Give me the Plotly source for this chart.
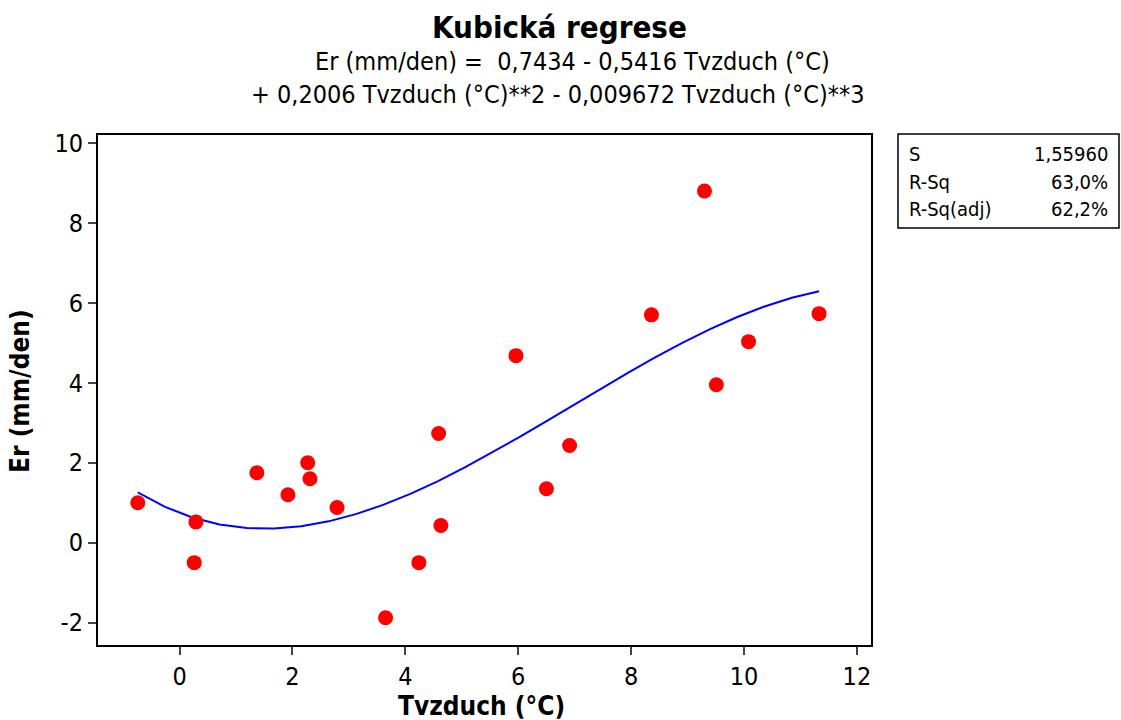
import numpy as np
import plotly.graph_objects as go

# Data
tvzduch = [-0.74, 0.29, 0.26, 1.37, 1.92, 2.27, 2.31, 2.79, 3.65, 4.24,
           4.59, 4.63, 5.96, 6.50, 6.91, 8.36, 9.30, 9.51, 10.08, 11.33]
er = [1.00, 0.52, -0.50, 1.75, 1.20, 2.00, 1.60, 0.88, -1.88, -0.50,
      2.73, 0.43, 4.68, 1.35, 2.43, 5.70, 8.80, 3.95, 5.03, 5.73]

# Cubic fit coefficients shown in the title (constant, x, x^2, x^3)
coefs = [0.7434, -0.5416, 0.2006, -0.009672]

stat_labels = ["S", "R-Sq", "R-Sq(adj)"]
stat_values = ["1,55960", "63,0%", "62,2%"]

x_ticks = [0, 2, 4, 6, 8, 10, 12]
y_ticks = [-2, 0, 2, 4, 6, 8, 10]
y_ticktext = ["-2", "0", "2", "4", "6", "8", "10"]

FONT = "DejaVu Sans Condensed, Tahoma, DejaVu Sans, sans-serif"

xf = np.linspace(min(tvzduch), max(tvzduch), 26)
yf = np.polyval(coefs[::-1], xf)

fig = go.Figure()
fig.add_trace(go.Scatter(x=xf, y=yf, mode="lines",
                         line=dict(color="#0000ff", width=2), showlegend=False))
fig.add_trace(go.Scatter(x=tvzduch, y=er, mode="markers",
                         marker=dict(color="#ff0000", size=15, line=dict(width=0)),
                         showlegend=False))

L, R, T, B = 98, 250, 135, 75
fig.update_layout(
    width=1121, height=720,
    margin=dict(l=L, r=R, t=T, b=B),
    paper_bgcolor="white", plot_bgcolor="white",
    font=dict(family=FONT, color="black", size=25),
    showlegend=False,
)
fig.update_xaxes(
    range=[-1.445, 12.25], tickvals=x_ticks, ticks="outside", ticklen=8, tickwidth=2,
    showline=True, linecolor="black", linewidth=2, mirror=True, showgrid=False,
    zeroline=False, tickfont=dict(size=25),
)
fig.update_yaxes(
    range=[-2.56, 10.2], tickvals=y_ticks, ticktext=y_ticktext, ticks="outside",
    ticklen=8, tickwidth=2,
    showline=True, linecolor="black", linewidth=2, mirror=True, showgrid=False,
    zeroline=False, tickfont=dict(size=25),
)

pw = 1121 - L - R
ph = 720 - T - B
def px(xp):
    return (xp - L) / pw
def py(yp):
    return (720 - B - yp) / ph

def text(xp, yp, s, size, xanchor="center", angle=0):
    fig.add_annotation(x=px(xp), y=py(yp), xref="paper", yref="paper", text=s,
                       showarrow=False, xanchor=xanchor, yanchor="middle",
                       textangle=angle, font=dict(size=size))

# Title block
text(559, 27, "<b>Kubická regrese</b>", 31)
text(572, 61, "Er (mm/den) =  0,7434 - 0,5416 Tvzduch (°C)", 25)
text(558, 94, "+ 0,2006 Tvzduch (°C)**2 - 0,009672 Tvzduch (°C)**3", 25)

# Axis titles
text(481, 706, "<b>Tvzduch (°C)</b>", 26)
text(20, 391, "<b>Er (mm/den)</b>", 26, angle=-90)

# Stats box
fig.add_shape(type="rect", xref="paper", yref="paper",
              x0=px(898), x1=px(1119), y0=py(228), y1=py(134),
              line=dict(color="black", width=1.5), fillcolor="white")
for i, (lab, val) in enumerate(zip(stat_labels, stat_values)):
    yy = 154 + i * 27.5
    text(907, yy, lab, 20, xanchor="left")
    text(1110, yy, val, 20, xanchor="right")

fig.write_html("out.html", config={"displayModeBar": False},
               post_script="document.body.style.margin='0px';")
